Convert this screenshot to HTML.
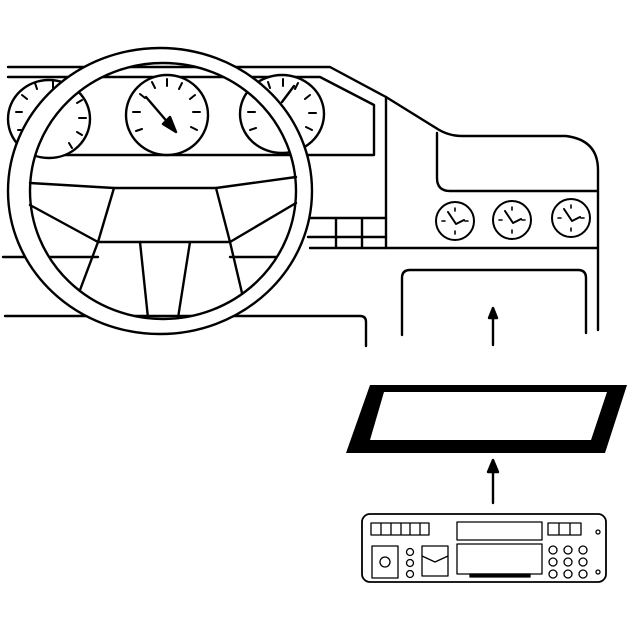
<!DOCTYPE html>
<html><head><style>html,body{margin:0;padding:0;background:#fff}svg{display:block}</style></head>
<body>
<svg width="630" height="630" viewBox="0 0 630 630" xmlns="http://www.w3.org/2000/svg" fill="none" stroke="#000" stroke-width="2.4" stroke-linecap="round" stroke-linejoin="round">
<!-- dashboard lines -->
<path d="M8 67 H330 L386 97 L436 128 Q448 136 462 136 H566 Q598 140 598 170 V330"/>
<path d="M8 77 H320 L374 105 V155 H36"/>
<path d="M386 97 V248 H597"/>
<path d="M437 133 V178 Q437 191 450 191 H597"/>
<path d="M3 257 H98 M230 257 H290"/>
<path d="M5 316 H360 Q366 316 366 322 V346"/>
<path d="M402 335 V278 Q402 270 410 270 H578 Q586 270 586 278 V333"/>
<!-- grid -->
<path d="M308 218 H386 M308 237 H386 M310 248 H386 M336 218 V248 M362 218 V248"/>
<!-- instrument gauges -->
<g>
<ellipse cx="49" cy="119" rx="41" ry="39" fill="#fff"/>
<ellipse cx="282" cy="114" rx="42" ry="39" fill="#fff"/>
<ellipse cx="167" cy="115" rx="41" ry="40" fill="#fff"/>
<g stroke-width="2">
<path d="M16 112 h6 M18 130 h6 M22 95 l5 4 M35 83 l2 6 M53 81 v7 M70 88 l-3 5 M82 100 l-5 3 M86 118 h-7 M82 135 l-5 -3 M72 148 l-3 -5"/>
<path d="M133 112 h7 M136 131 l6 -2 M140 94 l5 4 M152 82 l3 6 M167 79 v7 M182 83 l-3 6 M195 95 l-5 4 M200 112 h-7 M197 130 l-6 -3"/>
<path d="M248 112 h7 M250 130 l6 -2 M254 94 l6 4 M268 82 l2 6 M283 79 v7 M298 83 l-3 6 M310 95 l-5 4 M316 113 h-7 M312 130 l-6 -3"/>
</g>
<path d="M146 97 L170 125" stroke-width="2.4"/>
<path d="M176 132 L163 124 L170 117 Z" fill="#000"/>
<path d="M294 86 L282 102"/>
</g>
<!-- small gauges -->
<g stroke-width="2">
<circle cx="455" cy="221" r="19"/><circle cx="512" cy="220" r="19"/><circle cx="571" cy="218" r="19"/>
<path d="M448 212 L456 224 L464 220 M505 211 L513 223 L521 219 M564 209 L572 221 L580 217"/>
<path d="M442 221h3 M465 221h3 M455 208v3 M455 231v3 M499 220h3 M522 220h3 M512 207v3 M512 230v3 M558 218h3 M581 218h3 M571 205v3 M571 228v3" stroke-width="1.6"/>
</g>
<!-- steering wheel ring -->
<path fill="#fff" fill-rule="evenodd" d="M8 191 A152 143 0 1 0 312 191 A152 143 0 1 0 8 191 Z M30 191 A133 128 0 1 0 296 191 A133 128 0 1 0 30 191 Z"/>
<path d="M30 183 L114 188 H216 L296 177"/>
<path d="M114 188 L98 242 H230 L216 188"/>
<path d="M30 205 L98 242 L80 290"/>
<path d="M296 203 L230 242 L242 293"/>
<path d="M140 242 L148 318 M190 242 L178 318"/>
<!-- arrows -->
<path d="M493 345 V316"/><path d="M489 318 L493 308 L497 318 Z" fill="#000"/>
<path d="M493 503 V470"/><path d="M488 472 L493 460 L498 472 Z" fill="#000"/>
<!-- frame -->
<path d="M370 385 H627 L605 453 H346 Z M384 392 L370 440 H591 L607 392 Z" fill="#000" fill-rule="evenodd" stroke="none"/>
<!-- radio -->
<g stroke-width="1.3">
<rect x="362" y="514" width="244" height="68" rx="8" stroke-width="1.8"/>
<rect x="457" y="522" width="85" height="18"/>
<rect x="457" y="544" width="85" height="30"/>
<path d="M470 574 h60 v3 h-60z" fill="#000"/>
<path d="M371 523 h58 v12 h-58z M381 523 v12 M391 523 v12 M401 523 v12 M410 523 v12 M420 523 v12"/>
<path d="M548 523 h33 v12 h-33z M559 523 v12 M570 523 v12"/>
<rect x="372" y="546" width="26" height="32"/>
<circle cx="385" cy="562" r="5"/>
<rect x="422" y="546" width="26" height="30"/>
<path d="M422 556 l13 6 l13 -6"/>
<circle cx="410" cy="552" r="3.5"/><circle cx="410" cy="563" r="3.5"/><circle cx="410" cy="574" r="3.5"/>
<circle cx="553" cy="550" r="4"/><circle cx="568" cy="550" r="4"/><circle cx="583" cy="550" r="4"/>
<circle cx="553" cy="562" r="4"/><circle cx="568" cy="562" r="4"/><circle cx="583" cy="562" r="4"/>
<circle cx="553" cy="574" r="4"/><circle cx="568" cy="574" r="4"/><circle cx="583" cy="574" r="4"/>
<circle cx="598" cy="532" r="2"/><circle cx="598" cy="572" r="2"/>
</g>
</svg>
</body></html>
